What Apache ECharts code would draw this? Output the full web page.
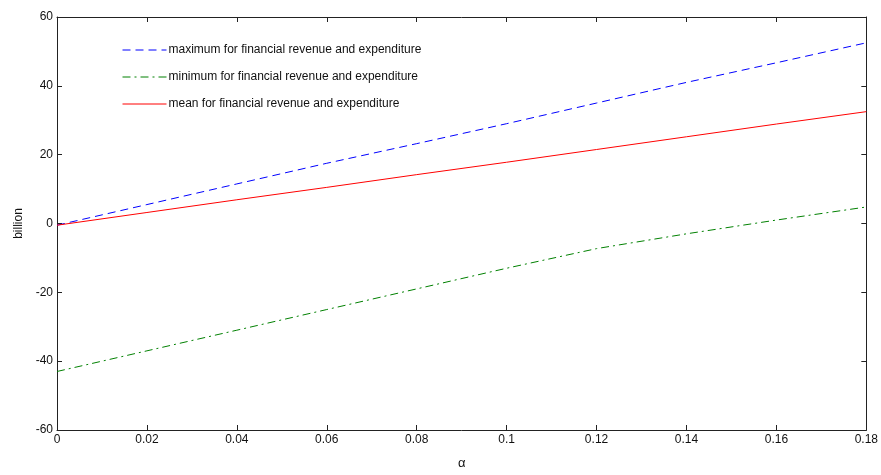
<!DOCTYPE html>
<html>
<head>
<meta charset="utf-8">
<script src="https://cdn.jsdelivr.net/npm/echarts@6/dist/echarts.min.js"></script>
<style>
    html, body { margin: 0; padding: 0; background: #fff; }
    #chart { width: 881px; height: 475px; }
</style>
</head>
<body>
<div id="chart"></div>
<script>
// alpha values
const alphas = [0, 0.02, 0.04, 0.06, 0.08, 0.1, 0.12, 0.14, 0.16, 0.18];
const maxValues = [-0.5, 5.5, 11.5, 17.5, 23.2, 29, 35, 41, 46.7, 52.5];
const minValues = [-43, -37, -31, -25, -19, -13, -7.3, -3, 1, 4.8];
const meanValues = [-0.5, 3.2, 6.9, 10.5, 14.2, 17.8, 21.5, 25.2, 28.9, 32.5];

const names = [
    'maximum for financial revenue and expenditure',
    'minimum for financial revenue and expenditure',
    'mean for financial revenue and expenditure'
];

function pairs(vals) {
    let arr = [];
    for (let i = 0; i < alphas.length; i++) {
        arr.push([alphas[i], vals[i]]);
    }
    return arr;
}

const font = 'Liberation Sans, Arial, sans-serif';
const axisColor = '#222';

let myChart = echarts.init(document.getElementById('chart'));

let option = {
    animation: false,
    grid: {
        left: 57,
        right: 13,
        top: 17,
        bottom: 45
    },
    legend: {
        orient: 'vertical',
        left: 117,
        top: 39,
        itemWidth: 44,
        itemHeight: 10,
        itemGap: 15,
        itemStyle: { opacity: 0 },
        lineStyle: { width: 1 },
        textStyle: {
            fontFamily: font,
            fontSize: 12,
            color: '#111',
            padding: [0, 0, 0, -3]
        },
        data: names
    },
    xAxis: [
        {
            type: 'value',
            min: 0,
            max: 0.18,
            interval: 0.02,
            name: 'α',
            nameLocation: 'middle',
            nameGap: 27,
            nameTextStyle: { fontFamily: font, fontSize: 13, color: '#111' },
            axisLine: { onZero: false, lineStyle: { color: axisColor, width: 1 } },
            axisTick: { inside: true, length: 5, lineStyle: { color: axisColor } },
            axisLabel: {
                fontFamily: font,
                fontSize: 12,
                color: '#111',
                margin: 4,
                formatter: function (v) { return String(+v.toFixed(2)); }
            },
            splitLine: { show: false }
        },
        {
            type: 'value',
            position: 'top',
            min: 0,
            max: 0.18,
            interval: 0.02,
            axisLine: { onZero: false, lineStyle: { color: axisColor, width: 1 } },
            axisTick: { inside: true, length: 5, lineStyle: { color: axisColor } },
            axisLabel: { show: false },
            splitLine: { show: false }
        }
    ],
    yAxis: [
        {
            type: 'value',
            min: -60,
            max: 60,
            interval: 20,
            name: 'billion',
            nameLocation: 'middle',
            nameGap: 32,
            nameRotate: 90,
            nameTextStyle: { fontFamily: font, fontSize: 12, color: '#111' },
            axisLine: { show: true, onZero: false, lineStyle: { color: axisColor, width: 1 } },
            axisTick: { show: true, inside: true, length: 5, lineStyle: { color: axisColor } },
            axisLabel: { fontFamily: font, fontSize: 12, color: '#111', margin: 4 },
            splitLine: { show: false }
        },
        {
            type: 'value',
            position: 'right',
            min: -60,
            max: 60,
            interval: 20,
            axisLine: { show: true, onZero: false, lineStyle: { color: axisColor, width: 1 } },
            axisTick: { show: true, inside: true, length: 5, lineStyle: { color: axisColor } },
            axisLabel: { show: false },
            splitLine: { show: false }
        }
    ],
    series: [
        {
            name: names[0],
            type: 'line',
            symbol: 'none',
            data: pairs(maxValues),
            lineStyle: { color: '#0000ff', width: 1, type: [8, 5] },
            itemStyle: { color: '#0000ff' }
        },
        {
            name: names[1],
            type: 'line',
            symbol: 'none',
            data: pairs(minValues),
            lineStyle: { color: '#008000', width: 1, type: [8, 4, 2, 4] },
            itemStyle: { color: '#008000' }
        },
        {
            name: names[2],
            type: 'line',
            symbol: 'none',
            data: pairs(meanValues),
            lineStyle: { color: '#ff0000', width: 1, type: 'solid' },
            itemStyle: { color: '#ff0000' }
        }
    ]
};

myChart.setOption(option);
</script>
</body>
</html>
